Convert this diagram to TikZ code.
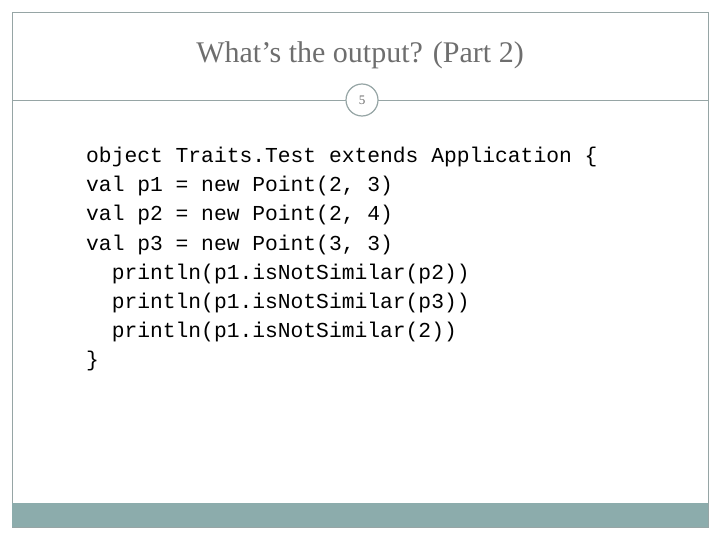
\documentclass[tikz,border=0pt]{standalone}
\usepackage{fontspec}
\setmainfont{Liberation Serif}
\setmonofont{Liberation Mono}
\usetikzlibrary{positioning}
\definecolor{framegray}{RGB}{150,165,165}
\definecolor{bartone}{RGB}{140,172,172}
\definecolor{titlegray}{RGB}{110,110,110}
\tikzset{
  codeline/.style={anchor=base west, inner sep=0pt, font=\fontsize{21.3}{24}\ttfamily},
  pagecircle/.style={circle, draw=framegray, fill=white, line width=1.2pt,
                     minimum size=32pt, inner sep=0pt, font=\fontsize{13}{14}\selectfont, text=titlegray}
}
\begin{document}
\begin{tikzpicture}[x=1pt,y=-1pt]
\useasboundingbox (0,0) rectangle (720,540);

% frame and bottom bar
\draw[framegray, line width=0.8pt] (12,12) rectangle (708,527);
\fill[bartone] (12,503) rectangle (708,527);

% title and rule
\node[text=titlegray, font=\fontsize{30}{34}\selectfont] (title) at (360,55) {What’s the output? (Part 2)};
\coordinate (ruleL) at (12,100);
\coordinate (ruleR) at (708,100);
\draw[framegray, line width=0.8pt] (ruleL) -- (ruleR);
\node[pagecircle] (page) at (362,100) {5};

% code
\foreach \txt [count=\i] in {
  {object Traits.Test extends Application \{},
  {val p1 = new Point(2, 3)},
  {val p2 = new Point(2, 4)},
  {val p3 = new Point(3, 3)},
  {\ \ println(p1.isNotSimilar(p2))},
  {\ \ println(p1.isNotSimilar(p3))},
  {\ \ println(p1.isNotSimilar(2))},
  {\}}}
  \node[codeline] (code\i) at (86,{163+29*(\i-1)}) {\txt};

\end{tikzpicture}
\end{document}
